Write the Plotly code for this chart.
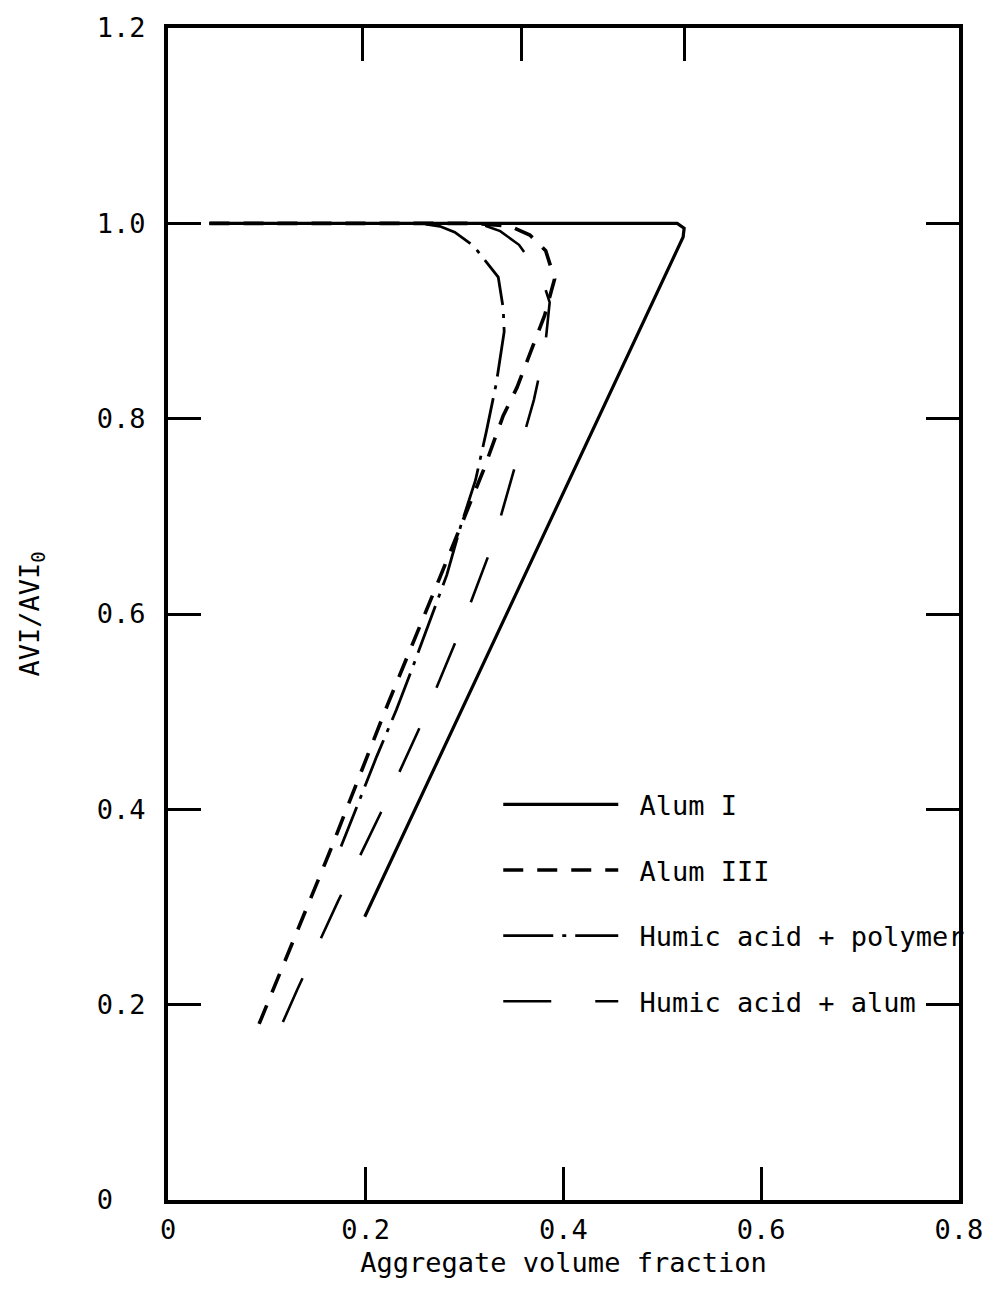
import plotly.graph_objects as go

# ---- data ----
alum1_x = [0.042, 0.515, 0.522, 0.521, 0.199]
alum1_y = [1.0, 1.0, 0.995, 0.986, 0.29]

alum3_x = [0.042, 0.31, 0.346, 0.366, 0.382, 0.391, 0.381, 0.367, 0.353, 0.339, 0.319, 0.274, 0.222, 0.163, 0.090]
alum3_y = [1.0, 1.0, 0.997, 0.988, 0.972, 0.943, 0.906, 0.870, 0.832, 0.803, 0.747, 0.635, 0.507, 0.355, 0.175]

hapoly_x = [0.042, 0.255, 0.275, 0.290, 0.309, 0.334, 0.339, 0.340, 0.332, 0.322, 0.311, 0.296, 0.282, 0.267, 0.248, 0.231, 0.211, 0.190, 0.175]
hapoly_y = [1.0, 1.0, 0.997, 0.991, 0.977, 0.945, 0.913, 0.889, 0.836, 0.787, 0.737, 0.690, 0.640, 0.598, 0.547, 0.502, 0.454, 0.400, 0.362]

haalum_x = [0.042, 0.300, 0.317, 0.336, 0.355, 0.369, 0.380, 0.386, 0.381, 0.370, 0.329, 0.294, 0.256, 0.215, 0.172, 0.131, 0.110]
haalum_y = [1.0, 1.0, 0.999, 0.992, 0.978, 0.958, 0.938, 0.919, 0.870, 0.819, 0.673, 0.579, 0.487, 0.396, 0.306, 0.216, 0.168]

series_names = ["Alum I", "Alum III", "Humic acid + polymer", "Humic acid + alum"]

x_tick_vals = [0, 0.2, 0.4, 0.6, 0.8]
x_tick_text = ["0", "0.2", "0.4", "0.6", "0.8"]
y_tick_vals = [0, 0.2, 0.4, 0.6, 0.8, 1.0, 1.2]
y_tick_text = ["0\u00a0\u00a0", "0.2", "0.4", "0.6", "0.8", "1.0", "1.2"]
top_tick_vals = [0.197, 0.358, 0.522]

FONT = "DejaVu Sans Mono"
FS = 27
PAD = "\u00a0"  # gap between legend sample line and its label

fig = go.Figure()
fig.add_trace(go.Scatter(x=alum1_x, y=alum1_y, mode="lines", name=PAD + series_names[0],
                         legendgroup="a", line=dict(color="black", width=3.2, dash="solid")))
fig.add_trace(go.Scatter(x=alum3_x, y=alum3_y, mode="lines", name=PAD + series_names[1],
                         legendgroup="b", line=dict(color="black", width=3.6, dash="20px,14px")))
fig.add_trace(go.Scatter(x=hapoly_x, y=hapoly_y, mode="lines", name=PAD + series_names[2],
                         legendgroup="c", line=dict(color="black", width=2.8, dash="50px,9px,4px,9px")))
fig.add_trace(go.Scatter(x=haalum_x, y=haalum_y, mode="lines", name=PAD + series_names[3],
                         legendgroup="d", line=dict(color="black", width=2.6, dash="48px,44px")))
# empty trace so that the top (secondary) axis with its own tick marks is drawn
fig.add_trace(go.Scatter(x=[], y=[], xaxis="x2", yaxis="y", showlegend=False,
                         hoverinfo="skip", mode="lines"))

fig.update_layout(
    width=995, height=1289,
    margin=dict(l=168, r=32, t=23, b=89),
    paper_bgcolor="white", plot_bgcolor="white",
    font=dict(family=FONT, size=FS, color="black"),
    showlegend=True,
    legend=dict(x=0.4175, y=0.358, xanchor="left", yanchor="top",
                bgcolor="rgba(0,0,0,0)", itemwidth=115, tracegroupgap=27.5,
                font=dict(family=FONT, size=FS, color="black")),
    xaxis=dict(range=[0, 0.8], tickvals=x_tick_vals, ticktext=x_tick_text,
               ticks="inside", ticklen=33, tickwidth=3, tickcolor="black",
               showline=True, linewidth=4, linecolor="black", mirror=True,
               showgrid=False, zeroline=False, ticklabelstandoff=3,
               title=dict(text="Aggregate volume fraction", standoff=10,
                          font=dict(family=FONT, size=FS, color="black"))),
    xaxis2=dict(range=[0, 0.8], overlaying="x", side="top", tickvals=top_tick_vals,
                showticklabels=False, ticks="inside", ticklen=33, tickwidth=3,
                tickcolor="black", showline=False, showgrid=False, zeroline=False),
    yaxis=dict(range=[0, 1.2], tickvals=y_tick_vals, ticktext=y_tick_text,
               ticks="inside", ticklen=33, tickwidth=3, tickcolor="black",
               showline=True, linewidth=4, linecolor="black", mirror="ticks",
               showgrid=False, zeroline=False, ticklabelstandoff=13,
               title=dict(text="AVI/AVI<sub>0</sub>", standoff=50,
                          font=dict(family=FONT, size=FS, color="black"))),
)

fig.write_html("out.html", config={"displayModeBar": False},
               post_script="document.body.style.margin='0';")
